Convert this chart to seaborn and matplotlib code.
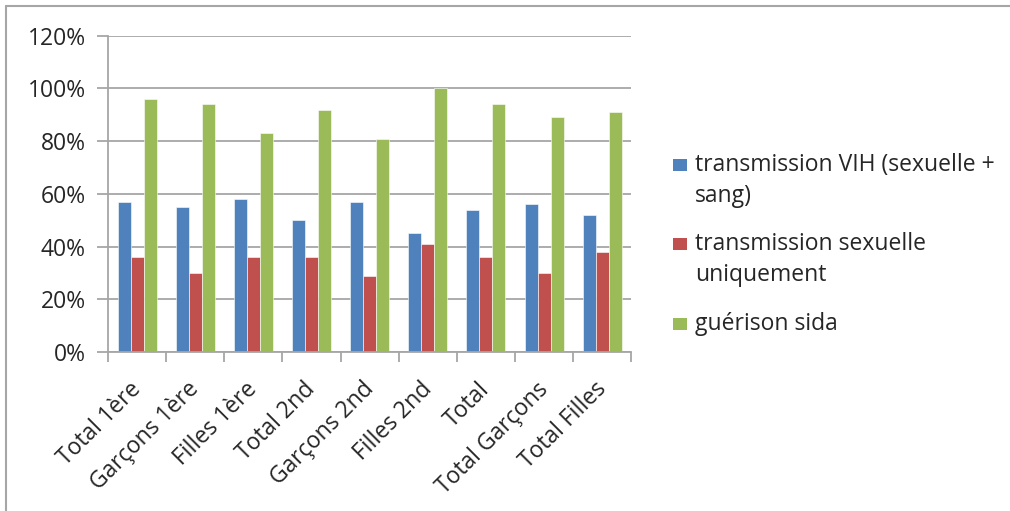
import pandas as pd
import matplotlib
matplotlib.use("Agg")
import matplotlib.pyplot as plt
import matplotlib.transforms as mtransforms
import seaborn as sns
from matplotlib.ticker import PercentFormatter, MultipleLocator
from matplotlib.lines import Line2D
from matplotlib.patches import Rectangle

# Data
categories = ['Total 1ère', 'Garçons 1ère', 'Filles 1ère', 'Total 2nd', 'Garçons 2nd',
              'Filles 2nd', 'Total', 'Total Garçons', 'Total Filles']
series = ['transmission VIH (sexuelle +\nsang)', 'transmission sexuelle\nuniquement', 'guérison sida']
vih = [57, 55, 58, 50, 57, 45, 54, 56, 52]
sexuelle = [36, 30, 36, 36, 29, 41, 36, 30, 38]
guerison = [96, 94, 83, 92, 81, 100, 94, 89, 91]
colors = ['#4F81BD', '#C0504D', '#9BBB59']

# Long format table for seaborn
rows = []
for name, vals in zip(series, [vih, sexuelle, guerison]):
    for cat, v in zip(categories, vals):
        rows.append({'categorie': cat, 'serie': name, 'valeur': v / 100})
df = pd.DataFrame(rows)

sns.set_style('white')
plt.rcParams['font.family'] = ['Open Sans', 'DejaVu Sans']
FS = 16.5
TXT = '#262626'
GRID = '#A6A6A6'

W, H = 1010, 511
fig = plt.figure(figsize=(W / 100, H / 100), dpi=100)
ax = fig.add_axes([0.107, 0.311, 0.518, 0.619])

sns.barplot(data=df, x='categorie', y='valeur', hue='serie', palette=colors,
            width=0.67, saturation=1, ax=ax, edgecolor='white', linewidth=0.4,
            legend=False)

ax.set_ylim(0, 1.2)
ax.yaxis.set_major_locator(MultipleLocator(0.2))
ax.yaxis.set_major_formatter(PercentFormatter(1.0, decimals=0))
ax.set_xlim(-0.5, 8.5)
ax.grid(axis='y', color=GRID, linewidth=1.3)
ax.set_axisbelow(True)
ax.set_xlabel('')
ax.set_ylabel('')

for side in ['top', 'right']:
    ax.spines[side].set_visible(False)
for side in ['left', 'bottom']:
    ax.spines[side].set_color(GRID)
    ax.spines[side].set_linewidth(1.3)

# y ticks outward on the left
ax.tick_params(axis='y', direction='out', length=8, width=1.3, color=GRID,
               labelsize=FS, labelcolor=TXT, pad=8, left=True)

# x ticks between the categories
ax.set_xticks(range(len(categories)))
ax.set_xticklabels(categories, rotation=45, ha='right', rotation_mode='anchor',
                   fontsize=FS, color=TXT)
ax.tick_params(axis='x', length=0, pad=14)
shift = mtransforms.ScaledTranslation(-0.08, -0.06, fig.dpi_scale_trans)
for lab in ax.get_xticklabels():
    lab.set_transform(lab.get_transform() + shift)
ax.set_xticks([i + 0.5 for i in range(-1, len(categories))], minor=True)
ax.tick_params(axis='x', which='minor', direction='out', length=7, width=1.3,
               color=GRID, bottom=True)

# legend, first line of each entry next to its square
entry_y = [165, 244, 324]
pitch = 31
for name, col, y in zip(series, colors, entry_y):
    fig.add_artist(Rectangle((673 / W, 1 - (y + 6) / H), 14 / W, 12 / H,
                             transform=fig.transFigure, facecolor=col, edgecolor='none'))
    for k, line in enumerate(name.split('\n')):
        fig.text(695 / W, 1 - (y + k * pitch) / H, line, fontsize=FS, color=TXT,
                 va='center', ha='left')

# chart border (left and top visible)
fig.add_artist(Line2D([6 / W, 6 / W], [0, 1 - 6 / H], color=GRID, lw=1.5))
fig.add_artist(Line2D([6 / W, 1], [1 - 6 / H, 1 - 6 / H], color=GRID, lw=1.5))

fig.savefig('out.png', dpi=100)
